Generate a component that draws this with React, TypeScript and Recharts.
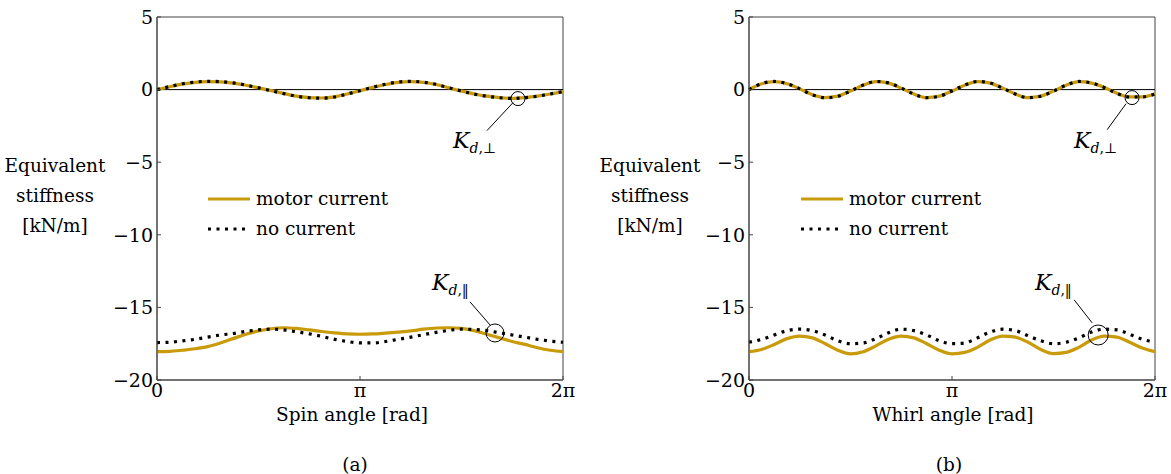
import { LineChart, Line, XAxis, YAxis, ReferenceLine, ReferenceDot, ReferenceArea } from "recharts";

// angle samples in steps of pi/16 (0 .. 2pi)
const STEPS = [0, 1, 2, 3, 4, 5, 6, 7, 8, 9, 10, 11, 12, 13, 14, 15, 16, 17, 18, 19, 20, 21, 22, 23, 24, 25, 26, 27, 28, 29, 30, 31, 32];
const X_TICKS = [0, 16, 32];
const X_TICK_LABELS = ["0", "π", "2π"];
const Y_TICKS = [5, 0, -5, -10, -15, -20];

// (a) spin
const spinPerpMotor = [0.0, 0.2, 0.38, 0.5, 0.55, 0.53, 0.45, 0.3, 0.12, -0.07, -0.27, -0.45, -0.55, -0.58, -0.5, -0.3, -0.08, 0.15, 0.35, 0.5, 0.55, 0.5, 0.35, 0.12, -0.1, -0.3, -0.45, -0.55, -0.6, -0.55, -0.45, -0.3, -0.15];
const spinPerpNone = [0.0, 0.21, 0.4, 0.52, 0.57, 0.55, 0.46, 0.31, 0.12, -0.08, -0.28, -0.46, -0.56, -0.59, -0.51, -0.3, -0.07, 0.16, 0.37, 0.52, 0.57, 0.51, 0.36, 0.12, -0.1, -0.31, -0.46, -0.56, -0.61, -0.56, -0.45, -0.3, -0.14];
const spinParMotor = [-18.05, -18.03, -17.95, -17.85, -17.7, -17.45, -17.15, -16.85, -16.62, -16.47, -16.4, -16.45, -16.55, -16.66, -16.75, -16.82, -16.85, -16.83, -16.77, -16.7, -16.62, -16.5, -16.42, -16.4, -16.45, -16.6, -16.85, -17.1, -17.35, -17.55, -17.78, -17.95, -18.05];
const spinParNone = [-17.42, -17.4, -17.3, -17.2, -17.05, -16.9, -16.8, -16.65, -16.55, -16.5, -16.55, -16.68, -16.82, -17.0, -17.2, -17.35, -17.45, -17.45, -17.35, -17.2, -17.05, -16.88, -16.72, -16.58, -16.5, -16.52, -16.6, -16.75, -16.9, -17.05, -17.2, -17.32, -17.4];

// (b) whirl
const whirlPerpMotor = [0.0, 0.4, 0.55, 0.4, 0.05, -0.35, -0.55, -0.45, -0.1, 0.3, 0.55, 0.45, 0.1, -0.3, -0.55, -0.45, -0.1, 0.3, 0.55, 0.45, 0.1, -0.3, -0.55, -0.45, -0.1, 0.3, 0.55, 0.45, 0.15, -0.25, -0.5, -0.5, -0.3];
const whirlPerpNone = [0.0, 0.41, 0.56, 0.41, 0.05, -0.36, -0.56, -0.46, -0.1, 0.31, 0.56, 0.46, 0.1, -0.31, -0.56, -0.46, -0.1, 0.31, 0.56, 0.46, 0.1, -0.31, -0.56, -0.46, -0.1, 0.31, 0.56, 0.46, 0.15, -0.26, -0.51, -0.5, -0.3];
const whirlParMotor = [-18.05, -17.9, -17.55, -17.15, -16.98, -17.1, -17.5, -17.95, -18.2, -18.05, -17.65, -17.2, -16.98, -17.1, -17.5, -17.95, -18.2, -18.1, -17.75, -17.25, -16.98, -17.05, -17.4, -17.9, -18.18, -18.1, -17.75, -17.25, -16.98, -17.05, -17.4, -17.8, -18.05];
const whirlParNone = [-17.4, -17.2, -16.9, -16.6, -16.5, -16.6, -16.9, -17.3, -17.5, -17.45, -17.15, -16.75, -16.5, -16.6, -16.9, -17.3, -17.5, -17.45, -17.1, -16.7, -16.5, -16.6, -16.95, -17.3, -17.5, -17.4, -17.1, -16.7, -16.5, -16.55, -16.85, -17.2, -17.4];

const GOLD = "#c99b0a";
const FONT = "DejaVu Serif";

type Note = { cx: number; cy: number; r: number; from: [number, number]; to: [number, number] };

const spinNotes: Note[] = [
  { cx: 28.45, cy: -0.62, r: 7, from: [26.0, -2.83], to: [28.06, -0.9] },
  { cx: 26.64, cy: -16.76, r: 9, from: [24.67, -14.62], to: [26.25, -16.21] },
];
const whirlNotes: Note[] = [
  { cx: 30.19, cy: -0.55, r: 7, from: [28.23, -2.76], to: [29.72, -0.97] },
  { cx: 27.52, cy: -16.9, r: 10, from: [25.63, -14.48], to: [27.05, -16.07] },
];

function buildRows(perpMotor: number[], perpNone: number[], parMotor: number[], parNone: number[]) {
  return STEPS.map((step, i) => ({
    step,
    perpMotor: perpMotor[i],
    perpNone: perpNone[i],
    parMotor: parMotor[i],
    parNone: parNone[i],
  }));
}

const spinRows = buildRows(spinPerpMotor, spinPerpNone, spinParMotor, spinParNone);
const whirlRows = buildRows(whirlPerpMotor, whirlPerpNone, whirlParMotor, whirlParNone);

function Panel({ data, notes }: { data: any[]; notes: Note[] }) {
  const tick = { fill: "#000", fontSize: 19, fontFamily: FONT };
  return (
    <LineChart width={585} height={474} data={data} margin={{ top: 17, right: 22, bottom: 64, left: 97 }}>
      <XAxis
        dataKey="step"
        type="number"
        domain={[0, 32]}
        ticks={X_TICKS}
        tickFormatter={(v) => X_TICK_LABELS[X_TICKS.indexOf(v)] ?? ""}
        tick={tick}
        tickSize={-4}
        tickMargin={8}
        height={30}
        stroke="#444"
        interval={0}
      />
      <YAxis
        type="number"
        domain={[-20, 5]}
        ticks={Y_TICKS}
        tickFormatter={(v) => (v < 0 ? "\u2212" + Math.abs(v) : String(v))}
        tick={tick}
        tickSize={-4}
        tickMargin={8}
        width={60}
        stroke="#444"
        interval={0}
      />
      <ReferenceLine y={0} stroke="#000" strokeWidth={1} />
      <ReferenceArea x1={0} x2={32} y1={-20} y2={5} fill="none" stroke="#444" strokeWidth={1} fillOpacity={0} />
      <Line type="monotone" dataKey="perpMotor" stroke={GOLD} strokeWidth={3.2} dot={false} isAnimationActive={false} />
      <Line type="monotone" dataKey="parMotor" stroke={GOLD} strokeWidth={3.2} dot={false} isAnimationActive={false} />
      <Line type="monotone" dataKey="perpNone" stroke="#000" strokeWidth={3.2} strokeDasharray="3 5.5" dot={false} isAnimationActive={false} />
      <Line type="monotone" dataKey="parNone" stroke="#000" strokeWidth={3.2} strokeDasharray="3 5.5" dot={false} isAnimationActive={false} />
      {notes.map((n, i) => (
        <ReferenceLine
          key={"l" + i}
          segment={[{ x: n.from[0], y: n.from[1] }, { x: n.to[0], y: n.to[1] }]}
          stroke="#000"
          strokeWidth={1}
          ifOverflow="visible"
        />
      ))}
      {notes.map((n, i) => (
        <ReferenceDot key={"c" + i} x={n.cx} y={n.cy} r={n.r} fill="none" stroke="#000" strokeWidth={1} ifOverflow="visible" />
      ))}
    </LineChart>
  );
}

function KLabel({ x, y, sub }: { x: number; y: number; sub: string }) {
  return (
    <text x={x} y={y} fontSize={22} fontFamily={FONT}>
      <tspan fontStyle="italic">K</tspan>
      <tspan fontSize={14} dy={5} fontStyle="italic">d</tspan>
      <tspan fontSize={14}>,{sub}</tspan>
    </text>
  );
}

function Legend({ x }: { x: number }) {
  return (
    <g fontFamily={FONT} fontSize={18.5}>
      <line x1={x} x2={x + 42} y1={199} y2={199} stroke={GOLD} strokeWidth={3.2} />
      <text x={x + 48} y={205}>motor current</text>
      <line x1={x} x2={x + 42} y1={229} y2={229} stroke="#000" strokeWidth={3.2} strokeDasharray="3 5.5" />
      <text x={x + 48} y={235}>no current</text>
    </g>
  );
}

function YTitle({ x }: { x: number }) {
  return (
    <g fontSize={18.5} fontFamily={FONT} textAnchor="middle">
      <text x={x} y={172}>Equivalent</text>
      <text x={x} y={202}>stiffness</text>
      <text x={x} y={232}>[kN/m]</text>
    </g>
  );
}

export default function App() {
  return (
    <div style={{ position: "absolute", left: 0, top: 0, width: 1171, height: 474, background: "#fff" }}>
      <div style={{ position: "absolute", left: 0, top: 0 }}>
        <Panel data={spinRows} notes={spinNotes} />
      </div>
      <div style={{ position: "absolute", left: 592, top: 0 }}>
        <Panel data={whirlRows} notes={whirlNotes} />
      </div>
      <svg width={1171} height={474} style={{ position: "absolute", left: 0, top: 0, pointerEvents: "none" }}>
        <YTitle x={55} />
        <YTitle x={650} />
        <Legend x={208} />
        <Legend x={801} />
        <g fontSize={18.5} fontFamily={FONT} textAnchor="middle" style={{ whiteSpace: "pre" }}>
          <text x={352} y={421}>Spin angle  [rad]</text>
          <text x={953} y={421}>Whirl angle  [rad]</text>
          <text x={355} y={471}>(a)</text>
          <text x={949} y={471}>(b)</text>
        </g>
        <KLabel x={453} y={148} sub="⊥" />
        <KLabel x={432} y={290} sub="‖" />
        <KLabel x={1074} y={148} sub="⊥" />
        <KLabel x={1035} y={290} sub="‖" />
      </svg>
    </div>
  );
}
